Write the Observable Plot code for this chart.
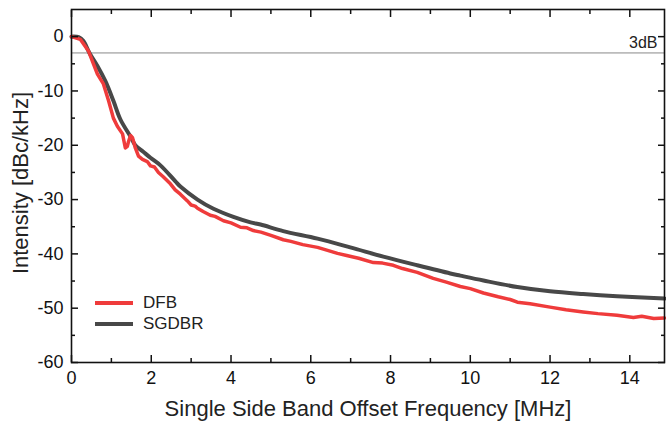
<!DOCTYPE html>
<html><head><meta charset="utf-8">
<script src="https://cdn.jsdelivr.net/npm/d3@7"></script>
<script src="https://cdn.jsdelivr.net/npm/@observablehq/plot@0.6"></script>
<style>
html,body{margin:0;padding:0;background:#fff;}
#chart{position:relative;width:666px;height:430px;font-family:"Liberation Sans",Arial,sans-serif;}
.legend{position:absolute;left:95px;top:293px;font-size:17px;color:#222;}
.legend div{display:flex;align-items:center;height:20.5px;}
.legend span.sw{display:inline-block;width:38px;height:4px;margin-right:10px;}
</style>
</head><body>
<div id="chart"></div>
<script>
const seriesNames = ["DFB", "SGDBR"];
const seriesColors = ["#ef3b3b", "#484848"];

const freqDFB = [0,0.22,0.43,0.55,0.65,0.8,0.93,1.05,1.15,1.28,1.35,1.4,1.43,1.48,1.53,1.6,1.68,1.78,1.9,1.98,2.08,2.18,2.3,2.48,2.6,2.73,2.9,3.0,3.1,3.16,3.3,3.48,3.6,3.81,4.0,4.24,4.4,4.56,4.75,5.0,5.31,5.5,5.8,6.17,6.4,6.67,6.9,7.2,7.57,7.8,8.07,8.3,8.67,9.07,9.4,9.75,10.0,10.33,10.7,11.0,11.18,11.5,12.0,12.4,12.83,13.2,13.68,14.09,14.3,14.6,14.87];
const dbDFB = [0,-0.5,-2.7,-5,-6.9,-8.7,-11.8,-15.0,-16.5,-17.9,-20.5,-20.2,-19.3,-18.2,-18.6,-20.5,-22.0,-22.6,-23.0,-23.8,-24.0,-25.0,-25.8,-27.1,-28.2,-29.0,-30.2,-31.0,-31.2,-31.6,-32.2,-32.9,-33.1,-33.9,-34.3,-35.1,-35.2,-35.7,-36.0,-36.6,-37.4,-37.7,-38.3,-38.8,-39.3,-39.9,-40.3,-40.8,-41.6,-41.7,-42.1,-42.7,-43.4,-44.5,-45.2,-46.0,-46.4,-47.2,-47.9,-48.4,-48.9,-49.2,-49.8,-50.3,-50.7,-51.0,-51.3,-51.7,-51.5,-51.9,-51.8];

const freqSG = [0,0.18,0.3,0.45,0.65,0.85,1.05,1.23,1.48,1.6,1.8,1.98,2.23,2.6,2.73,3.16,3.56,4.06,4.49,4.74,5.31,6.17,6.99,7.82,8.67,9.5,9.75,10.33,11.18,12.0,12.83,13.68,14.87];
const dbSG = [0,-0.1,-0.8,-3,-5.4,-8.2,-11.8,-15.3,-18.4,-20.0,-21.2,-22.3,-23.7,-26.6,-27.6,-30.0,-31.7,-33.2,-34.2,-34.6,-35.8,-37.2,-38.8,-40.5,-42.1,-43.6,-44.0,-44.9,-46.1,-46.9,-47.4,-47.8,-48.2];

const xMajor = [0,2,4,6,8,10,12,14];
const xMinor = [1,3,5,7,9,11,13];
const yMajor = [0,-10,-20,-30,-40,-50,-60];
const yMinor = [-5,-15,-25,-35,-45,-55];
const refLevel = [-3];
const refLabel = "3dB";
const xTitle = "Single Side Band Offset Frequency [MHz]";
const yTitle = "Intensity [dBc/kHz]";

const dfb = freqDFB.map((f,i)=>({f, v: dbDFB[i]}));
const sg = freqSG.map((f,i)=>({f, v: dbSG[i]}));
const noLabel = () => "";

const plot = Plot.plot({
  width: 666, height: 430,
  marginLeft: 71, marginRight: 2, marginTop: 9, marginBottom: 68,
  style: {fontFamily: '"Liberation Sans", Arial, sans-serif', fontSize: "18px", color: "#111", background: "#fff"},
  x: {domain: [0, 14.87]},
  y: {domain: [-60, 5]},
  marks: [
    Plot.ruleY(refLevel, {stroke: "#888", strokeWidth: 1}),
    Plot.text(refLevel, {x: () => 14.87, y: d => d, text: () => refLabel, textAnchor: "end", dx: -7, dy: -10, fontSize: 16, fill: "#222"}),
    Plot.line(sg, {x: "f", y: "v", stroke: seriesColors[1], strokeWidth: 4, curve: "catmull-rom"}),
    Plot.line(dfb, {x: "f", y: "v", stroke: seriesColors[0], strokeWidth: 3.5}),
    // labels
    Plot.axisX(xMajor, {anchor: "bottom", tickSize: 0, tickPadding: 9, tickFormat: d => d, fontSize: 18, label: null}),
    Plot.axisY(yMajor, {anchor: "left", tickSize: 0, tickPadding: 8, tickFormat: d => d, fontSize: 18, label: null}),
    // inward ticks
    Plot.axisX(xMajor, {anchor: "bottom", tickSize: -7, tickFormat: noLabel, label: null, strokeWidth: 1.5}),
    Plot.axisX(xMinor, {anchor: "bottom", tickSize: -4, tickFormat: noLabel, label: null, strokeWidth: 1.5}),
    Plot.axisX(xMajor, {anchor: "top", tickSize: -7, tickFormat: noLabel, label: null, strokeWidth: 1.5}),
    Plot.axisX(xMinor, {anchor: "top", tickSize: -4, tickFormat: noLabel, label: null, strokeWidth: 1.5}),
    Plot.axisY(yMajor, {anchor: "left", tickSize: -7, tickFormat: noLabel, label: null, strokeWidth: 1.5}),
    Plot.axisY(yMinor, {anchor: "left", tickSize: -4, tickFormat: noLabel, label: null, strokeWidth: 1.5}),
    Plot.axisY(yMajor, {anchor: "right", tickSize: -7, tickFormat: noLabel, label: null, strokeWidth: 1.5}),
    Plot.axisY(yMinor, {anchor: "right", tickSize: -4, tickFormat: noLabel, label: null, strokeWidth: 1.5}),
    Plot.frame({stroke: "#111", strokeWidth: 1.6}),
    Plot.text([xTitle], {frameAnchor: "bottom", text: d => d, dy: 53, fontSize: 22, fill: "#222"}),
    Plot.text([yTitle], {frameAnchor: "left", text: d => d, textAnchor: "middle", rotate: -90, dx: -51, dy: -3, fontSize: 22, fill: "#222"})
  ]
});
const chart = document.getElementById("chart");
chart.appendChild(plot);
const leg = document.createElement("div");
leg.className = "legend";
seriesNames.forEach((n,i) => {
  const row = document.createElement("div");
  row.innerHTML = `<span class="sw" style="background:${seriesColors[i]}"></span><span>${n}</span>`;
  leg.appendChild(row);
});
chart.appendChild(leg);
</script>
</body></html>
